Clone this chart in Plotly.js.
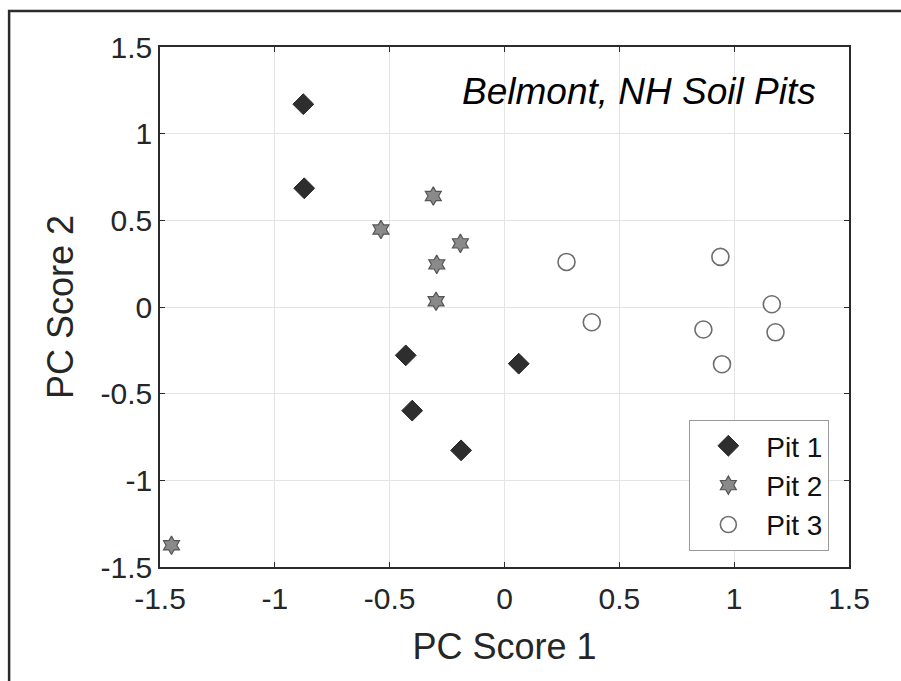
<!DOCTYPE html>
<html>
<head>
<meta charset="utf-8">
<script src="https://cdn.plot.ly/plotly-3.0.1.min.js"></script>
<style>
html,body{margin:0;padding:0;background:#fff;}
#chart{width:901px;height:681px;}
</style>
</head>
<body>
<div id="chart"></div>
<script>
// Data
const seriesNames = ["Pit 1", "Pit 2", "Pit 3"];
const pit1X = [-0.876, -0.872, -0.43, 0.062, -0.402, -0.189];
const pit1Y = [1.17, 0.685, -0.279, -0.327, -0.598, -0.827];
const pit2X = [-0.31, -0.538, -0.192, -0.295, -0.298, -1.45];
const pit2Y = [0.64, 0.447, 0.367, 0.246, 0.033, -1.375];
const pit3X = [0.27, 0.94, 1.164, 0.38, 0.866, 1.18, 0.947];
const pit3Y = [0.26, 0.289, 0.016, -0.088, -0.13, -0.146, -0.33];
const tickVals = [-1.5, -1, -0.5, 0, 0.5, 1, 1.5];
const tickText = ["-1.5", "-1", "-0.5", "0", "0.5", "1", "1.5"];
const xTitle = "PC Score 1";
const yTitle = "PC Score 2";
const annotationText = "Belmont, NH Soil Pits";

const FONT = "Liberation Sans, Arial, Helvetica, sans-serif";

const traces = [
  {
    x: pit1X, y: pit1Y, name: seriesNames[0], type: "scatter", mode: "markers",
    marker: {symbol: "diamond", size: 16, color: "#2e2e2e", line: {color: "#262626", width: 1}}
  },
  {
    x: pit2X, y: pit2Y, name: seriesNames[1], type: "scatter", mode: "markers",
    marker: {symbol: "hexagram", size: 14, color: "#8a8a8a", line: {color: "#555555", width: 1.2}}
  },
  {
    x: pit3X, y: pit3Y, name: seriesNames[2], type: "scatter", mode: "markers",
    marker: {symbol: "circle", size: 17, color: "#ffffff", line: {color: "#6e6e6e", width: 1.6}}
  }
];

const axisCommon = {
  range: [-1.5, 1.5],
  tickmode: "array",
  tickvals: tickVals,
  ticktext: tickText,
  showgrid: true,
  gridcolor: "#e4e4e4",
  gridwidth: 1,
  zeroline: false,
  showline: true,
  linecolor: "#2b2b2b",
  linewidth: 1.8,
  mirror: "ticks",
  ticks: "inside",
  ticklen: 5,
  tickwidth: 1,
  tickcolor: "#2b2b2b",
  tickfont: {family: FONT, size: 30, color: "#262626"}
};

const layout = {
  width: 901,
  height: 681,
  paper_bgcolor: "#ffffff",
  plot_bgcolor: "#ffffff",
  margin: {l: 160, r: 52, t: 47, b: 114},
  showlegend: true,
  hovermode: false,
  xaxis: Object.assign({}, axisCommon, {
    ticklabelstandoff: 4,
    title: {text: xTitle, font: {family: FONT, size: 36, color: "#262626"}, standoff: 20}
  }),
  yaxis: Object.assign({}, axisCommon, {
    title: {text: yTitle, font: {family: FONT, size: 36, color: "#262626"}, standoff: 16}
  }),
  legend: {
    x: 0.768, y: 0.283, xanchor: "left", yanchor: "top",
    bgcolor: "#ffffff",
    bordercolor: "#9a9a9a",
    borderwidth: 1.2,
    font: {family: FONT, size: 28, color: "#111111"},
    itemwidth: 66
  },
  annotations: [{
    text: "<i>" + annotationText + "</i>",
    xref: "paper", yref: "paper",
    x: 0.955, y: 0.915, xanchor: "right", yanchor: "middle",
    showarrow: false,
    font: {family: FONT, size: 37, color: "#000000"}
  }],
  shapes: [{
    type: "rect", xref: "paper", yref: "paper",
    x0: -0.219, x1: 1.3, y0: -0.3, y1: 1.069,
    line: {color: "#2b2b2b", width: 2.5},
    fillcolor: "rgba(0,0,0,0)",
    layer: "above"
  }]
};

Plotly.newPlot("chart", traces, layout, {displayModeBar: false, staticPlot: true});
</script>
</body>
</html>
